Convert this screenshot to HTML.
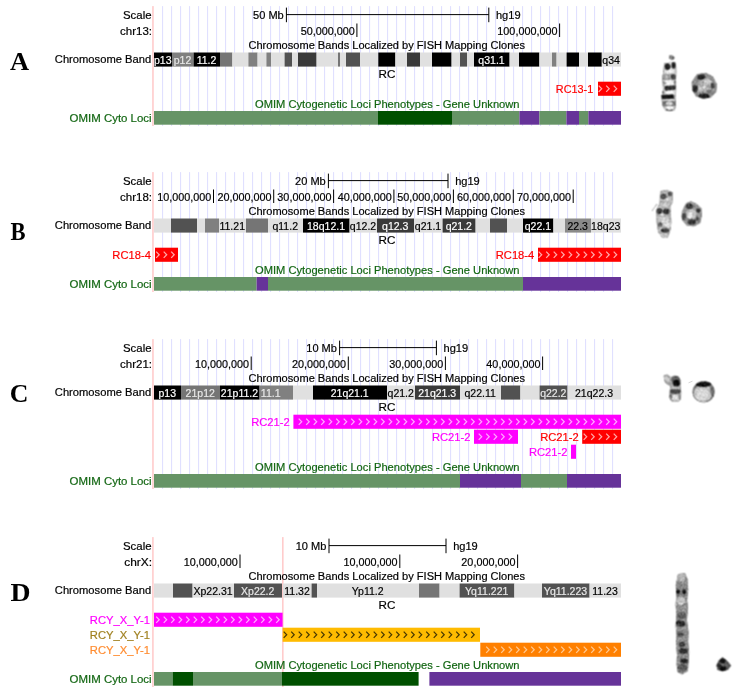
<!DOCTYPE html>
<html><head><meta charset="utf-8"><title>UCSC FISH clones</title>
<style>
html,body{margin:0;padding:0;background:#fff;}
body{width:745px;height:695px;overflow:hidden;position:relative;}
svg{position:absolute;left:0;top:0;font-family:'Liberation Sans', Arial, Helvetica, sans-serif;}
</style></head><body>
<svg width="745" height="695" viewBox="0 0 745 695">
<g>
<rect x="0" y="0" width="745" height="695" fill="#fff"/>
<rect x="162.00" y="6.10" width="1.10" height="119.90" fill="#e0e0ff"/>
<rect x="171.00" y="6.10" width="1.10" height="119.90" fill="#e0e0ff"/>
<rect x="180.00" y="6.10" width="1.10" height="119.90" fill="#e0e0ff"/>
<rect x="189.00" y="6.10" width="1.10" height="119.90" fill="#e0e0ff"/>
<rect x="198.00" y="6.10" width="1.10" height="119.90" fill="#e0e0ff"/>
<rect x="207.00" y="6.10" width="1.10" height="119.90" fill="#e0e0ff"/>
<rect x="216.00" y="6.10" width="1.10" height="119.90" fill="#e0e0ff"/>
<rect x="225.00" y="6.10" width="1.10" height="119.90" fill="#e0e0ff"/>
<rect x="234.00" y="6.10" width="1.10" height="119.90" fill="#e0e0ff"/>
<rect x="243.00" y="6.10" width="1.10" height="119.90" fill="#e0e0ff"/>
<rect x="252.00" y="6.10" width="1.10" height="119.90" fill="#e0e0ff"/>
<rect x="261.00" y="6.10" width="1.10" height="119.90" fill="#e0e0ff"/>
<rect x="270.00" y="6.10" width="1.10" height="119.90" fill="#e0e0ff"/>
<rect x="279.00" y="6.10" width="1.10" height="119.90" fill="#e0e0ff"/>
<rect x="288.00" y="6.10" width="1.10" height="119.90" fill="#e0e0ff"/>
<rect x="297.00" y="6.10" width="1.10" height="119.90" fill="#e0e0ff"/>
<rect x="306.00" y="6.10" width="1.10" height="119.90" fill="#e0e0ff"/>
<rect x="315.00" y="6.10" width="1.10" height="119.90" fill="#e0e0ff"/>
<rect x="324.00" y="6.10" width="1.10" height="119.90" fill="#e0e0ff"/>
<rect x="333.00" y="6.10" width="1.10" height="119.90" fill="#e0e0ff"/>
<rect x="342.00" y="6.10" width="1.10" height="119.90" fill="#e0e0ff"/>
<rect x="351.00" y="6.10" width="1.10" height="119.90" fill="#e0e0ff"/>
<rect x="360.00" y="6.10" width="1.10" height="119.90" fill="#e0e0ff"/>
<rect x="369.00" y="6.10" width="1.10" height="119.90" fill="#e0e0ff"/>
<rect x="378.00" y="6.10" width="1.10" height="119.90" fill="#e0e0ff"/>
<rect x="387.00" y="6.10" width="1.10" height="119.90" fill="#e0e0ff"/>
<rect x="396.00" y="6.10" width="1.10" height="119.90" fill="#e0e0ff"/>
<rect x="405.00" y="6.10" width="1.10" height="119.90" fill="#e0e0ff"/>
<rect x="414.00" y="6.10" width="1.10" height="119.90" fill="#e0e0ff"/>
<rect x="423.00" y="6.10" width="1.10" height="119.90" fill="#e0e0ff"/>
<rect x="432.00" y="6.10" width="1.10" height="119.90" fill="#e0e0ff"/>
<rect x="441.00" y="6.10" width="1.10" height="119.90" fill="#e0e0ff"/>
<rect x="450.00" y="6.10" width="1.10" height="119.90" fill="#e0e0ff"/>
<rect x="459.00" y="6.10" width="1.10" height="119.90" fill="#e0e0ff"/>
<rect x="468.00" y="6.10" width="1.10" height="119.90" fill="#e0e0ff"/>
<rect x="477.00" y="6.10" width="1.10" height="119.90" fill="#e0e0ff"/>
<rect x="486.00" y="6.10" width="1.10" height="119.90" fill="#e0e0ff"/>
<rect x="495.00" y="6.10" width="1.10" height="119.90" fill="#e0e0ff"/>
<rect x="504.00" y="6.10" width="1.10" height="119.90" fill="#e0e0ff"/>
<rect x="513.00" y="6.10" width="1.10" height="119.90" fill="#e0e0ff"/>
<rect x="522.00" y="6.10" width="1.10" height="119.90" fill="#e0e0ff"/>
<rect x="531.00" y="6.10" width="1.10" height="119.90" fill="#e0e0ff"/>
<rect x="540.00" y="6.10" width="1.10" height="119.90" fill="#e0e0ff"/>
<rect x="549.00" y="6.10" width="1.10" height="119.90" fill="#e0e0ff"/>
<rect x="558.00" y="6.10" width="1.10" height="119.90" fill="#e0e0ff"/>
<rect x="567.00" y="6.10" width="1.10" height="119.90" fill="#e0e0ff"/>
<rect x="576.00" y="6.10" width="1.10" height="119.90" fill="#e0e0ff"/>
<rect x="585.00" y="6.10" width="1.10" height="119.90" fill="#e0e0ff"/>
<rect x="594.00" y="6.10" width="1.10" height="119.90" fill="#e0e0ff"/>
<rect x="603.00" y="6.10" width="1.10" height="119.90" fill="#e0e0ff"/>
<rect x="612.00" y="6.10" width="1.10" height="119.90" fill="#e0e0ff"/>
<rect x="152.15" y="6.10" width="1.60" height="119.90" fill="#ffcccc"/>
<text transform="translate(9.99 70.10) scale(1.0565 1.0427)" font-size="25" font-family="Liberation Serif, serif" font-weight="bold" fill="#000">A</text>
<text transform="translate(123.01 19.00) scale(0.9751 1)" fill="#000" stroke="#000" stroke-width="0.2" font-size="11.7">Scale</text>
<text transform="translate(120.01 35.00) scale(0.9839 1)" fill="#000" stroke="#000" stroke-width="0.2" font-size="11.7">chr13:</text>
<text transform="translate(54.83 63.00) scale(0.9557 1)" fill="#000" stroke="#000" stroke-width="0.2" font-size="11.7">Chromosome Band</text>
<text transform="translate(69.61 122.00) scale(0.9782 1)" fill="#126612" stroke="#126612" stroke-width="0.2" font-size="11.7">OMIM Cyto Loci</text>
<rect x="286.40" y="14.10" width="202.40" height="1.00" fill="#000"/>
<rect x="285.90" y="7.60" width="1.00" height="14.60" fill="#000"/>
<rect x="488.30" y="7.60" width="1.00" height="14.60" fill="#000"/>
<text transform="translate(253.06 19.00) scale(0.9450 1)" fill="#000" stroke="#000" stroke-width="0.2" font-size="11.7">50 Mb</text>
<text transform="translate(495.94 19.00) scale(0.9474 1)" fill="#000" stroke="#000" stroke-width="0.2" font-size="11.7">hg19</text>
<rect x="356.40" y="23.50" width="1.00" height="13.50" fill="#000"/>
<text transform="translate(300.66 35.00) scale(0.9250 1)" fill="#000" stroke="#000" stroke-width="0.2" font-size="11.7">50,000,000</text>
<rect x="559.10" y="23.50" width="1.00" height="13.50" fill="#000"/>
<text transform="translate(497.35 35.00) scale(0.9250 1)" fill="#000" stroke="#000" stroke-width="0.2" font-size="11.7">100,000,000</text>
<text transform="translate(248.43 49.00) scale(0.9465 1)" fill="#000" stroke="#000" stroke-width="0.2" font-size="11.7">Chromosome Bands Localized by FISH Mapping Clones</text>
<text transform="translate(255.03 108.00) scale(0.9533 1)" fill="#126612" stroke="#126612" stroke-width="0.2" font-size="11.7">OMIM Cytogenetic Loci Phenotypes - Gene Unknown</text>
<rect x="154.00" y="52.50" width="18.00" height="14.10" fill="#000000"/>
<rect x="172.00" y="52.50" width="21.60" height="14.10" fill="#808080"/>
<rect x="193.60" y="52.50" width="26.40" height="14.10" fill="#000000"/>
<rect x="220.00" y="52.50" width="12.40" height="14.10" fill="#757575"/>
<rect x="232.40" y="52.50" width="16.00" height="14.10" fill="#e0e0e0"/>
<rect x="248.40" y="52.50" width="9.20" height="14.10" fill="#808080"/>
<rect x="257.60" y="52.50" width="8.80" height="14.10" fill="#e0e0e0"/>
<rect x="266.40" y="52.50" width="4.80" height="14.10" fill="#808080"/>
<rect x="271.20" y="52.50" width="13.40" height="14.10" fill="#e0e0e0"/>
<rect x="284.60" y="52.50" width="7.40" height="14.10" fill="#525252"/>
<rect x="292.00" y="52.50" width="6.00" height="14.10" fill="#e0e0e0"/>
<rect x="298.00" y="52.50" width="18.60" height="14.10" fill="#3a3a3a"/>
<rect x="316.60" y="52.50" width="21.40" height="14.10" fill="#e0e0e0"/>
<rect x="338.00" y="52.50" width="2.00" height="14.10" fill="#757575"/>
<rect x="340.00" y="52.50" width="6.00" height="14.10" fill="#e0e0e0"/>
<rect x="346.00" y="52.50" width="14.00" height="14.10" fill="#525252"/>
<rect x="360.00" y="52.50" width="18.30" height="14.10" fill="#e0e0e0"/>
<rect x="378.30" y="52.50" width="17.10" height="14.10" fill="#000000"/>
<rect x="395.40" y="52.50" width="11.60" height="14.10" fill="#e0e0e0"/>
<rect x="407.00" y="52.50" width="13.00" height="14.10" fill="#3a3a3a"/>
<rect x="420.00" y="52.50" width="12.00" height="14.10" fill="#e0e0e0"/>
<rect x="432.00" y="52.50" width="19.60" height="14.10" fill="#000000"/>
<rect x="451.60" y="52.50" width="8.40" height="14.10" fill="#e0e0e0"/>
<rect x="460.00" y="52.50" width="7.00" height="14.10" fill="#525252"/>
<rect x="467.00" y="52.50" width="7.00" height="14.10" fill="#e0e0e0"/>
<rect x="474.00" y="52.50" width="35.60" height="14.10" fill="#000000"/>
<rect x="509.60" y="52.50" width="9.40" height="14.10" fill="#e0e0e0"/>
<rect x="519.00" y="52.50" width="20.40" height="14.10" fill="#000000"/>
<rect x="539.40" y="52.50" width="12.60" height="14.10" fill="#e0e0e0"/>
<rect x="552.00" y="52.50" width="4.60" height="14.10" fill="#808080"/>
<rect x="556.60" y="52.50" width="10.00" height="14.10" fill="#e0e0e0"/>
<rect x="566.60" y="52.50" width="12.40" height="14.10" fill="#000000"/>
<rect x="579.00" y="52.50" width="9.00" height="14.10" fill="#e0e0e0"/>
<rect x="588.00" y="52.50" width="13.80" height="14.10" fill="#000000"/>
<rect x="601.80" y="52.50" width="19.20" height="14.10" fill="#e0e0e0"/>
<text transform="translate(162.70 64.00) scale(0.9000 1)" fill="#ffffff" stroke="#ffffff" stroke-width="0.2" font-size="11.7" text-anchor="middle">p13</text>
<text transform="translate(182.50 64.00) scale(0.9000 1)" fill="#e8e8e8" stroke="#e8e8e8" stroke-width="0.2" font-size="11.7" text-anchor="middle">p12</text>
<text transform="translate(206.50 64.00) scale(0.9000 1)" fill="#ffffff" stroke="#ffffff" stroke-width="0.2" font-size="11.7" text-anchor="middle">11.2</text>
<text transform="translate(491.50 64.00) scale(0.9000 1)" fill="#ffffff" stroke="#ffffff" stroke-width="0.2" font-size="11.7" text-anchor="middle">q31.1</text>
<text transform="translate(611.10 64.00) scale(0.9000 1)" fill="#000000" stroke="#000000" stroke-width="0.2" font-size="11.7" text-anchor="middle">q34</text>
<text transform="translate(378.60 78.00) scale(1.0000 1)" fill="#000" stroke="#000" stroke-width="0.2" font-size="11.7">RC</text>
<rect x="598.00" y="81.70" width="23.00" height="14.10" fill="#ff0000"/>
<path d="M598.70 85.65L601.70 88.75L598.70 91.85M606.20 85.65L609.20 88.75L606.20 91.85M613.70 85.65L616.70 88.75L613.70 91.85" fill="none" stroke="#ffa8a8" stroke-width="1.25"/>
<text transform="translate(555.86 93.00) scale(0.9280 1)" fill="#ff0000" stroke="#ff0000" stroke-width="0.2" font-size="11.7">RC13-1</text>
<rect x="154.00" y="111.00" width="224.00" height="13.70" fill="#669466"/>
<rect x="378.00" y="111.00" width="74.00" height="13.70" fill="#005000"/>
<rect x="452.00" y="111.00" width="67.40" height="13.70" fill="#669466"/>
<rect x="519.40" y="111.00" width="20.00" height="13.70" fill="#663399"/>
<rect x="539.40" y="111.00" width="27.00" height="13.70" fill="#669466"/>
<rect x="566.40" y="111.00" width="12.60" height="13.70" fill="#663399"/>
<rect x="579.00" y="111.00" width="9.40" height="13.70" fill="#669466"/>
<rect x="588.40" y="111.00" width="32.60" height="13.70" fill="#663399"/>
<rect x="162.00" y="172.10" width="1.10" height="119.90" fill="#e0e0ff"/>
<rect x="171.00" y="172.10" width="1.10" height="119.90" fill="#e0e0ff"/>
<rect x="180.00" y="172.10" width="1.10" height="119.90" fill="#e0e0ff"/>
<rect x="189.00" y="172.10" width="1.10" height="119.90" fill="#e0e0ff"/>
<rect x="198.00" y="172.10" width="1.10" height="119.90" fill="#e0e0ff"/>
<rect x="207.00" y="172.10" width="1.10" height="119.90" fill="#e0e0ff"/>
<rect x="216.00" y="172.10" width="1.10" height="119.90" fill="#e0e0ff"/>
<rect x="225.00" y="172.10" width="1.10" height="119.90" fill="#e0e0ff"/>
<rect x="234.00" y="172.10" width="1.10" height="119.90" fill="#e0e0ff"/>
<rect x="243.00" y="172.10" width="1.10" height="119.90" fill="#e0e0ff"/>
<rect x="252.00" y="172.10" width="1.10" height="119.90" fill="#e0e0ff"/>
<rect x="261.00" y="172.10" width="1.10" height="119.90" fill="#e0e0ff"/>
<rect x="270.00" y="172.10" width="1.10" height="119.90" fill="#e0e0ff"/>
<rect x="279.00" y="172.10" width="1.10" height="119.90" fill="#e0e0ff"/>
<rect x="288.00" y="172.10" width="1.10" height="119.90" fill="#e0e0ff"/>
<rect x="297.00" y="172.10" width="1.10" height="119.90" fill="#e0e0ff"/>
<rect x="306.00" y="172.10" width="1.10" height="119.90" fill="#e0e0ff"/>
<rect x="315.00" y="172.10" width="1.10" height="119.90" fill="#e0e0ff"/>
<rect x="324.00" y="172.10" width="1.10" height="119.90" fill="#e0e0ff"/>
<rect x="333.00" y="172.10" width="1.10" height="119.90" fill="#e0e0ff"/>
<rect x="342.00" y="172.10" width="1.10" height="119.90" fill="#e0e0ff"/>
<rect x="351.00" y="172.10" width="1.10" height="119.90" fill="#e0e0ff"/>
<rect x="360.00" y="172.10" width="1.10" height="119.90" fill="#e0e0ff"/>
<rect x="369.00" y="172.10" width="1.10" height="119.90" fill="#e0e0ff"/>
<rect x="378.00" y="172.10" width="1.10" height="119.90" fill="#e0e0ff"/>
<rect x="387.00" y="172.10" width="1.10" height="119.90" fill="#e0e0ff"/>
<rect x="396.00" y="172.10" width="1.10" height="119.90" fill="#e0e0ff"/>
<rect x="405.00" y="172.10" width="1.10" height="119.90" fill="#e0e0ff"/>
<rect x="414.00" y="172.10" width="1.10" height="119.90" fill="#e0e0ff"/>
<rect x="423.00" y="172.10" width="1.10" height="119.90" fill="#e0e0ff"/>
<rect x="432.00" y="172.10" width="1.10" height="119.90" fill="#e0e0ff"/>
<rect x="441.00" y="172.10" width="1.10" height="119.90" fill="#e0e0ff"/>
<rect x="450.00" y="172.10" width="1.10" height="119.90" fill="#e0e0ff"/>
<rect x="459.00" y="172.10" width="1.10" height="119.90" fill="#e0e0ff"/>
<rect x="468.00" y="172.10" width="1.10" height="119.90" fill="#e0e0ff"/>
<rect x="477.00" y="172.10" width="1.10" height="119.90" fill="#e0e0ff"/>
<rect x="486.00" y="172.10" width="1.10" height="119.90" fill="#e0e0ff"/>
<rect x="495.00" y="172.10" width="1.10" height="119.90" fill="#e0e0ff"/>
<rect x="504.00" y="172.10" width="1.10" height="119.90" fill="#e0e0ff"/>
<rect x="513.00" y="172.10" width="1.10" height="119.90" fill="#e0e0ff"/>
<rect x="522.00" y="172.10" width="1.10" height="119.90" fill="#e0e0ff"/>
<rect x="531.00" y="172.10" width="1.10" height="119.90" fill="#e0e0ff"/>
<rect x="540.00" y="172.10" width="1.10" height="119.90" fill="#e0e0ff"/>
<rect x="549.00" y="172.10" width="1.10" height="119.90" fill="#e0e0ff"/>
<rect x="558.00" y="172.10" width="1.10" height="119.90" fill="#e0e0ff"/>
<rect x="567.00" y="172.10" width="1.10" height="119.90" fill="#e0e0ff"/>
<rect x="576.00" y="172.10" width="1.10" height="119.90" fill="#e0e0ff"/>
<rect x="585.00" y="172.10" width="1.10" height="119.90" fill="#e0e0ff"/>
<rect x="594.00" y="172.10" width="1.10" height="119.90" fill="#e0e0ff"/>
<rect x="603.00" y="172.10" width="1.10" height="119.90" fill="#e0e0ff"/>
<rect x="612.00" y="172.10" width="1.10" height="119.90" fill="#e0e0ff"/>
<rect x="152.15" y="172.10" width="1.60" height="119.90" fill="#ffcccc"/>
<text transform="translate(10.54 240.00) scale(0.9038 1.0427)" font-size="25" font-family="Liberation Serif, serif" font-weight="bold" fill="#000">B</text>
<text transform="translate(123.01 185.00) scale(0.9751 1)" fill="#000" stroke="#000" stroke-width="0.2" font-size="11.7">Scale</text>
<text transform="translate(120.01 201.00) scale(0.9839 1)" fill="#000" stroke="#000" stroke-width="0.2" font-size="11.7">chr18:</text>
<text transform="translate(54.83 229.00) scale(0.9557 1)" fill="#000" stroke="#000" stroke-width="0.2" font-size="11.7">Chromosome Band</text>
<text transform="translate(69.61 288.00) scale(0.9782 1)" fill="#126612" stroke="#126612" stroke-width="0.2" font-size="11.7">OMIM Cyto Loci</text>
<rect x="328.40" y="180.10" width="119.60" height="1.00" fill="#000"/>
<rect x="327.90" y="173.60" width="1.00" height="14.60" fill="#000"/>
<rect x="447.50" y="173.60" width="1.00" height="14.60" fill="#000"/>
<text transform="translate(295.06 185.00) scale(0.9450 1)" fill="#000" stroke="#000" stroke-width="0.2" font-size="11.7">20 Mb</text>
<text transform="translate(455.14 185.00) scale(0.9474 1)" fill="#000" stroke="#000" stroke-width="0.2" font-size="11.7">hg19</text>
<rect x="213.00" y="189.50" width="1.00" height="13.50" fill="#000"/>
<text transform="translate(157.26 201.00) scale(0.9250 1)" fill="#000" stroke="#000" stroke-width="0.2" font-size="11.7">10,000,000</text>
<rect x="273.20" y="189.50" width="1.00" height="13.50" fill="#000"/>
<text transform="translate(217.46 201.00) scale(0.9250 1)" fill="#000" stroke="#000" stroke-width="0.2" font-size="11.7">20,000,000</text>
<rect x="333.10" y="189.50" width="1.00" height="13.50" fill="#000"/>
<text transform="translate(277.36 201.00) scale(0.9250 1)" fill="#000" stroke="#000" stroke-width="0.2" font-size="11.7">30,000,000</text>
<rect x="393.40" y="189.50" width="1.00" height="13.50" fill="#000"/>
<text transform="translate(337.66 201.00) scale(0.9250 1)" fill="#000" stroke="#000" stroke-width="0.2" font-size="11.7">40,000,000</text>
<rect x="452.90" y="189.50" width="1.00" height="13.50" fill="#000"/>
<text transform="translate(397.16 201.00) scale(0.9250 1)" fill="#000" stroke="#000" stroke-width="0.2" font-size="11.7">50,000,000</text>
<rect x="512.80" y="189.50" width="1.00" height="13.50" fill="#000"/>
<text transform="translate(457.06 201.00) scale(0.9250 1)" fill="#000" stroke="#000" stroke-width="0.2" font-size="11.7">60,000,000</text>
<rect x="572.70" y="189.50" width="1.00" height="13.50" fill="#000"/>
<text transform="translate(516.96 201.00) scale(0.9250 1)" fill="#000" stroke="#000" stroke-width="0.2" font-size="11.7">70,000,000</text>
<text transform="translate(248.43 215.00) scale(0.9465 1)" fill="#000" stroke="#000" stroke-width="0.2" font-size="11.7">Chromosome Bands Localized by FISH Mapping Clones</text>
<text transform="translate(255.03 274.00) scale(0.9533 1)" fill="#126612" stroke="#126612" stroke-width="0.2" font-size="11.7">OMIM Cytogenetic Loci Phenotypes - Gene Unknown</text>
<rect x="154.00" y="218.50" width="17.00" height="14.10" fill="#e0e0e0"/>
<rect x="171.00" y="218.50" width="26.00" height="14.10" fill="#525252"/>
<rect x="197.00" y="218.50" width="8.00" height="14.10" fill="#e0e0e0"/>
<rect x="205.00" y="218.50" width="14.00" height="14.10" fill="#808080"/>
<rect x="219.00" y="218.50" width="27.00" height="14.10" fill="#e0e0e0"/>
<rect x="246.00" y="218.50" width="22.00" height="14.10" fill="#757575"/>
<rect x="268.00" y="218.50" width="35.00" height="14.10" fill="#e0e0e0"/>
<rect x="303.00" y="218.50" width="46.60" height="14.10" fill="#000000"/>
<rect x="349.60" y="218.50" width="27.40" height="14.10" fill="#e0e0e0"/>
<rect x="377.00" y="218.50" width="37.00" height="14.10" fill="#3a3a3a"/>
<rect x="414.00" y="218.50" width="28.60" height="14.10" fill="#e0e0e0"/>
<rect x="442.60" y="218.50" width="33.00" height="14.10" fill="#3a3a3a"/>
<rect x="475.60" y="218.50" width="14.40" height="14.10" fill="#e0e0e0"/>
<rect x="490.00" y="218.50" width="17.00" height="14.10" fill="#525252"/>
<rect x="507.00" y="218.50" width="16.00" height="14.10" fill="#e0e0e0"/>
<rect x="523.00" y="218.50" width="30.40" height="14.10" fill="#000000"/>
<rect x="553.40" y="218.50" width="11.60" height="14.10" fill="#e0e0e0"/>
<rect x="565.00" y="218.50" width="26.00" height="14.10" fill="#8a8a8a"/>
<rect x="591.00" y="218.50" width="30.00" height="14.10" fill="#e0e0e0"/>
<text transform="translate(232.20 230.00) scale(0.9000 1)" fill="#000000" stroke="#000000" stroke-width="0.2" font-size="11.7" text-anchor="middle">11.21</text>
<text transform="translate(285.20 230.00) scale(0.9000 1)" fill="#000000" stroke="#000000" stroke-width="0.2" font-size="11.7" text-anchor="middle">q11.2</text>
<text transform="translate(326.00 230.00) scale(0.9000 1)" fill="#ffffff" stroke="#ffffff" stroke-width="0.2" font-size="11.7" text-anchor="middle">18q12.1</text>
<text transform="translate(363.00 230.00) scale(0.9000 1)" fill="#000000" stroke="#000000" stroke-width="0.2" font-size="11.7" text-anchor="middle">q12.2</text>
<text transform="translate(395.20 230.00) scale(0.9000 1)" fill="#ffffff" stroke="#ffffff" stroke-width="0.2" font-size="11.7" text-anchor="middle">q12.3</text>
<text transform="translate(428.00 230.00) scale(0.9000 1)" fill="#000000" stroke="#000000" stroke-width="0.2" font-size="11.7" text-anchor="middle">q21.1</text>
<text transform="translate(458.80 230.00) scale(0.9000 1)" fill="#ffffff" stroke="#ffffff" stroke-width="0.2" font-size="11.7" text-anchor="middle">q21.2</text>
<text transform="translate(537.90 230.00) scale(0.9000 1)" fill="#ffffff" stroke="#ffffff" stroke-width="0.2" font-size="11.7" text-anchor="middle">q22.1</text>
<text transform="translate(577.70 230.00) scale(0.9000 1)" fill="#000000" stroke="#000000" stroke-width="0.2" font-size="11.7" text-anchor="middle">22.3</text>
<text transform="translate(605.70 230.00) scale(0.9000 1)" fill="#000000" stroke="#000000" stroke-width="0.2" font-size="11.7" text-anchor="middle">18q23</text>
<text transform="translate(378.60 244.00) scale(1.0000 1)" fill="#000" stroke="#000" stroke-width="0.2" font-size="11.7">RC</text>
<rect x="155.00" y="247.70" width="23.00" height="14.10" fill="#ff0000"/>
<path d="M156.20 251.65L159.20 254.75L156.20 257.85M163.70 251.65L166.70 254.75L163.70 257.85M171.20 251.65L174.20 254.75L171.20 257.85" fill="none" stroke="#ffa8a8" stroke-width="1.25"/>
<text transform="translate(112.36 259.00) scale(0.9560 1)" fill="#ff0000" stroke="#ff0000" stroke-width="0.2" font-size="11.7">RC18-4</text>
<rect x="538.00" y="247.70" width="83.00" height="14.10" fill="#ff0000"/>
<path d="M538.70 251.65L541.70 254.75L538.70 257.85M546.20 251.65L549.20 254.75L546.20 257.85M553.70 251.65L556.70 254.75L553.70 257.85M561.20 251.65L564.20 254.75L561.20 257.85M568.70 251.65L571.70 254.75L568.70 257.85M576.20 251.65L579.20 254.75L576.20 257.85M583.70 251.65L586.70 254.75L583.70 257.85M591.20 251.65L594.20 254.75L591.20 257.85M598.70 251.65L601.70 254.75L598.70 257.85M606.20 251.65L609.20 254.75L606.20 257.85M613.70 251.65L616.70 254.75L613.70 257.85" fill="none" stroke="#ffa8a8" stroke-width="1.25"/>
<text transform="translate(495.76 259.00) scale(0.9560 1)" fill="#ff0000" stroke="#ff0000" stroke-width="0.2" font-size="11.7">RC18-4</text>
<rect x="154.00" y="277.00" width="102.60" height="13.70" fill="#669466"/>
<rect x="256.60" y="277.00" width="11.40" height="13.70" fill="#663399"/>
<rect x="268.00" y="277.00" width="255.00" height="13.70" fill="#669466"/>
<rect x="523.00" y="277.00" width="98.00" height="13.70" fill="#663399"/>
<rect x="162.00" y="339.10" width="1.10" height="149.90" fill="#e0e0ff"/>
<rect x="171.00" y="339.10" width="1.10" height="149.90" fill="#e0e0ff"/>
<rect x="180.00" y="339.10" width="1.10" height="149.90" fill="#e0e0ff"/>
<rect x="189.00" y="339.10" width="1.10" height="149.90" fill="#e0e0ff"/>
<rect x="198.00" y="339.10" width="1.10" height="149.90" fill="#e0e0ff"/>
<rect x="207.00" y="339.10" width="1.10" height="149.90" fill="#e0e0ff"/>
<rect x="216.00" y="339.10" width="1.10" height="149.90" fill="#e0e0ff"/>
<rect x="225.00" y="339.10" width="1.10" height="149.90" fill="#e0e0ff"/>
<rect x="234.00" y="339.10" width="1.10" height="149.90" fill="#e0e0ff"/>
<rect x="243.00" y="339.10" width="1.10" height="149.90" fill="#e0e0ff"/>
<rect x="252.00" y="339.10" width="1.10" height="149.90" fill="#e0e0ff"/>
<rect x="261.00" y="339.10" width="1.10" height="149.90" fill="#e0e0ff"/>
<rect x="270.00" y="339.10" width="1.10" height="149.90" fill="#e0e0ff"/>
<rect x="279.00" y="339.10" width="1.10" height="149.90" fill="#e0e0ff"/>
<rect x="288.00" y="339.10" width="1.10" height="149.90" fill="#e0e0ff"/>
<rect x="297.00" y="339.10" width="1.10" height="149.90" fill="#e0e0ff"/>
<rect x="306.00" y="339.10" width="1.10" height="149.90" fill="#e0e0ff"/>
<rect x="315.00" y="339.10" width="1.10" height="149.90" fill="#e0e0ff"/>
<rect x="324.00" y="339.10" width="1.10" height="149.90" fill="#e0e0ff"/>
<rect x="333.00" y="339.10" width="1.10" height="149.90" fill="#e0e0ff"/>
<rect x="342.00" y="339.10" width="1.10" height="149.90" fill="#e0e0ff"/>
<rect x="351.00" y="339.10" width="1.10" height="149.90" fill="#e0e0ff"/>
<rect x="360.00" y="339.10" width="1.10" height="149.90" fill="#e0e0ff"/>
<rect x="369.00" y="339.10" width="1.10" height="149.90" fill="#e0e0ff"/>
<rect x="378.00" y="339.10" width="1.10" height="149.90" fill="#e0e0ff"/>
<rect x="387.00" y="339.10" width="1.10" height="149.90" fill="#e0e0ff"/>
<rect x="396.00" y="339.10" width="1.10" height="149.90" fill="#e0e0ff"/>
<rect x="405.00" y="339.10" width="1.10" height="149.90" fill="#e0e0ff"/>
<rect x="414.00" y="339.10" width="1.10" height="149.90" fill="#e0e0ff"/>
<rect x="423.00" y="339.10" width="1.10" height="149.90" fill="#e0e0ff"/>
<rect x="432.00" y="339.10" width="1.10" height="149.90" fill="#e0e0ff"/>
<rect x="441.00" y="339.10" width="1.10" height="149.90" fill="#e0e0ff"/>
<rect x="450.00" y="339.10" width="1.10" height="149.90" fill="#e0e0ff"/>
<rect x="459.00" y="339.10" width="1.10" height="149.90" fill="#e0e0ff"/>
<rect x="468.00" y="339.10" width="1.10" height="149.90" fill="#e0e0ff"/>
<rect x="477.00" y="339.10" width="1.10" height="149.90" fill="#e0e0ff"/>
<rect x="486.00" y="339.10" width="1.10" height="149.90" fill="#e0e0ff"/>
<rect x="495.00" y="339.10" width="1.10" height="149.90" fill="#e0e0ff"/>
<rect x="504.00" y="339.10" width="1.10" height="149.90" fill="#e0e0ff"/>
<rect x="513.00" y="339.10" width="1.10" height="149.90" fill="#e0e0ff"/>
<rect x="522.00" y="339.10" width="1.10" height="149.90" fill="#e0e0ff"/>
<rect x="531.00" y="339.10" width="1.10" height="149.90" fill="#e0e0ff"/>
<rect x="540.00" y="339.10" width="1.10" height="149.90" fill="#e0e0ff"/>
<rect x="549.00" y="339.10" width="1.10" height="149.90" fill="#e0e0ff"/>
<rect x="558.00" y="339.10" width="1.10" height="149.90" fill="#e0e0ff"/>
<rect x="567.00" y="339.10" width="1.10" height="149.90" fill="#e0e0ff"/>
<rect x="576.00" y="339.10" width="1.10" height="149.90" fill="#e0e0ff"/>
<rect x="585.00" y="339.10" width="1.10" height="149.90" fill="#e0e0ff"/>
<rect x="594.00" y="339.10" width="1.10" height="149.90" fill="#e0e0ff"/>
<rect x="603.00" y="339.10" width="1.10" height="149.90" fill="#e0e0ff"/>
<rect x="612.00" y="339.10" width="1.10" height="149.90" fill="#e0e0ff"/>
<rect x="152.15" y="339.10" width="1.60" height="149.90" fill="#ffcccc"/>
<text transform="translate(9.66 401.80) scale(1.0336 1.0179)" font-size="25" font-family="Liberation Serif, serif" font-weight="bold" fill="#000">C</text>
<text transform="translate(123.01 352.00) scale(0.9751 1)" fill="#000" stroke="#000" stroke-width="0.2" font-size="11.7">Scale</text>
<text transform="translate(120.01 368.00) scale(0.9839 1)" fill="#000" stroke="#000" stroke-width="0.2" font-size="11.7">chr21:</text>
<text transform="translate(54.83 396.00) scale(0.9557 1)" fill="#000" stroke="#000" stroke-width="0.2" font-size="11.7">Chromosome Band</text>
<text transform="translate(69.61 485.00) scale(0.9782 1)" fill="#126612" stroke="#126612" stroke-width="0.2" font-size="11.7">OMIM Cyto Loci</text>
<rect x="339.60" y="347.10" width="96.80" height="1.00" fill="#000"/>
<rect x="339.10" y="340.60" width="1.00" height="14.60" fill="#000"/>
<rect x="435.90" y="340.60" width="1.00" height="14.60" fill="#000"/>
<text transform="translate(306.26 352.00) scale(0.9450 1)" fill="#000" stroke="#000" stroke-width="0.2" font-size="11.7">10 Mb</text>
<text transform="translate(443.54 352.00) scale(0.9474 1)" fill="#000" stroke="#000" stroke-width="0.2" font-size="11.7">hg19</text>
<rect x="250.70" y="356.50" width="1.00" height="13.50" fill="#000"/>
<text transform="translate(194.96 368.00) scale(0.9250 1)" fill="#000" stroke="#000" stroke-width="0.2" font-size="11.7">10,000,000</text>
<rect x="347.80" y="356.50" width="1.00" height="13.50" fill="#000"/>
<text transform="translate(292.06 368.00) scale(0.9250 1)" fill="#000" stroke="#000" stroke-width="0.2" font-size="11.7">20,000,000</text>
<rect x="444.90" y="356.50" width="1.00" height="13.50" fill="#000"/>
<text transform="translate(389.16 368.00) scale(0.9250 1)" fill="#000" stroke="#000" stroke-width="0.2" font-size="11.7">30,000,000</text>
<rect x="542.10" y="356.50" width="1.00" height="13.50" fill="#000"/>
<text transform="translate(486.36 368.00) scale(0.9250 1)" fill="#000" stroke="#000" stroke-width="0.2" font-size="11.7">40,000,000</text>
<text transform="translate(248.43 382.00) scale(0.9465 1)" fill="#000" stroke="#000" stroke-width="0.2" font-size="11.7">Chromosome Bands Localized by FISH Mapping Clones</text>
<text transform="translate(255.03 471.00) scale(0.9533 1)" fill="#126612" stroke="#126612" stroke-width="0.2" font-size="11.7">OMIM Cytogenetic Loci Phenotypes - Gene Unknown</text>
<rect x="154.00" y="385.50" width="27.00" height="14.10" fill="#000000"/>
<rect x="181.00" y="385.50" width="39.00" height="14.10" fill="#757575"/>
<rect x="220.00" y="385.50" width="39.60" height="14.10" fill="#000000"/>
<rect x="259.60" y="385.50" width="33.40" height="14.10" fill="#808080"/>
<rect x="293.00" y="385.50" width="20.00" height="14.10" fill="#e0e0e0"/>
<rect x="313.00" y="385.50" width="74.00" height="14.10" fill="#000000"/>
<rect x="387.00" y="385.50" width="28.00" height="14.10" fill="#e0e0e0"/>
<rect x="415.00" y="385.50" width="45.00" height="14.10" fill="#3a3a3a"/>
<rect x="460.00" y="385.50" width="41.00" height="14.10" fill="#e0e0e0"/>
<rect x="501.00" y="385.50" width="19.40" height="14.10" fill="#525252"/>
<rect x="520.40" y="385.50" width="19.20" height="14.10" fill="#e0e0e0"/>
<rect x="539.60" y="385.50" width="28.00" height="14.10" fill="#525252"/>
<rect x="567.60" y="385.50" width="53.40" height="14.10" fill="#e0e0e0"/>
<text transform="translate(167.20 397.00) scale(0.9000 1)" fill="#ffffff" stroke="#ffffff" stroke-width="0.2" font-size="11.7" text-anchor="middle">p13</text>
<text transform="translate(200.20 397.00) scale(0.9000 1)" fill="#e8e8e8" stroke="#e8e8e8" stroke-width="0.2" font-size="11.7" text-anchor="middle">21p12</text>
<text transform="translate(239.50 397.00) scale(0.9000 1)" fill="#ffffff" stroke="#ffffff" stroke-width="0.2" font-size="11.7" text-anchor="middle">21p11.2</text>
<text transform="translate(260.78 397.00) scale(0.9069 1)" fill="#e8e8e8" stroke="#e8e8e8" stroke-width="0.2" font-size="11.7">11.1</text>
<text transform="translate(349.70 397.00) scale(0.9000 1)" fill="#ffffff" stroke="#ffffff" stroke-width="0.2" font-size="11.7" text-anchor="middle">21q21.1</text>
<text transform="translate(400.70 397.00) scale(0.9000 1)" fill="#000000" stroke="#000000" stroke-width="0.2" font-size="11.7" text-anchor="middle">q21.2</text>
<text transform="translate(437.20 397.00) scale(0.9000 1)" fill="#ffffff" stroke="#ffffff" stroke-width="0.2" font-size="11.7" text-anchor="middle">21q21.3</text>
<text transform="translate(480.20 397.00) scale(0.9000 1)" fill="#000000" stroke="#000000" stroke-width="0.2" font-size="11.7" text-anchor="middle">q22.11</text>
<text transform="translate(553.30 397.00) scale(0.9000 1)" fill="#e8e8e8" stroke="#e8e8e8" stroke-width="0.2" font-size="11.7" text-anchor="middle">q22.2</text>
<text transform="translate(594.00 397.00) scale(0.9000 1)" fill="#000000" stroke="#000000" stroke-width="0.2" font-size="11.7" text-anchor="middle">21q22.3</text>
<text transform="translate(378.60 411.00) scale(1.0000 1)" fill="#000" stroke="#000" stroke-width="0.2" font-size="11.7">RC</text>
<rect x="293.40" y="414.70" width="327.60" height="14.10" fill="#ff00ff"/>
<path d="M298.70 418.65L301.70 421.75L298.70 424.85M306.20 418.65L309.20 421.75L306.20 424.85M313.70 418.65L316.70 421.75L313.70 424.85M321.20 418.65L324.20 421.75L321.20 424.85M328.70 418.65L331.70 421.75L328.70 424.85M336.20 418.65L339.20 421.75L336.20 424.85M343.70 418.65L346.70 421.75L343.70 424.85M351.20 418.65L354.20 421.75L351.20 424.85M358.70 418.65L361.70 421.75L358.70 424.85M366.20 418.65L369.20 421.75L366.20 424.85M373.70 418.65L376.70 421.75L373.70 424.85M381.20 418.65L384.20 421.75L381.20 424.85M388.70 418.65L391.70 421.75L388.70 424.85M396.20 418.65L399.20 421.75L396.20 424.85M403.70 418.65L406.70 421.75L403.70 424.85M411.20 418.65L414.20 421.75L411.20 424.85M418.70 418.65L421.70 421.75L418.70 424.85M426.20 418.65L429.20 421.75L426.20 424.85M433.70 418.65L436.70 421.75L433.70 424.85M441.20 418.65L444.20 421.75L441.20 424.85M448.70 418.65L451.70 421.75L448.70 424.85M456.20 418.65L459.20 421.75L456.20 424.85M463.70 418.65L466.70 421.75L463.70 424.85M471.20 418.65L474.20 421.75L471.20 424.85M478.70 418.65L481.70 421.75L478.70 424.85M486.20 418.65L489.20 421.75L486.20 424.85M493.70 418.65L496.70 421.75L493.70 424.85M501.20 418.65L504.20 421.75L501.20 424.85M508.70 418.65L511.70 421.75L508.70 424.85M516.20 418.65L519.20 421.75L516.20 424.85M523.70 418.65L526.70 421.75L523.70 424.85M531.20 418.65L534.20 421.75L531.20 424.85M538.70 418.65L541.70 421.75L538.70 424.85M546.20 418.65L549.20 421.75L546.20 424.85M553.70 418.65L556.70 421.75L553.70 424.85M561.20 418.65L564.20 421.75L561.20 424.85M568.70 418.65L571.70 421.75L568.70 424.85M576.20 418.65L579.20 421.75L576.20 424.85M583.70 418.65L586.70 421.75L583.70 424.85M591.20 418.65L594.20 421.75L591.20 424.85M598.70 418.65L601.70 421.75L598.70 424.85M606.20 418.65L609.20 421.75L606.20 424.85M613.70 418.65L616.70 421.75L613.70 424.85" fill="none" stroke="#ffa8ff" stroke-width="1.25"/>
<text transform="translate(251.13 426.00) scale(0.9590 1)" fill="#ff00ff" stroke="#ff00ff" stroke-width="0.2" font-size="11.7">RC21-2</text>
<rect x="474.00" y="429.70" width="44.00" height="14.10" fill="#ff00ff"/>
<path d="M478.70 433.65L481.70 436.75L478.70 439.85M486.20 433.65L489.20 436.75L486.20 439.85M493.70 433.65L496.70 436.75L493.70 439.85M501.20 433.65L504.20 436.75L501.20 439.85M508.70 433.65L511.70 436.75L508.70 439.85" fill="none" stroke="#ffa8ff" stroke-width="1.25"/>
<text transform="translate(431.93 441.00) scale(0.9590 1)" fill="#ff00ff" stroke="#ff00ff" stroke-width="0.2" font-size="11.7">RC21-2</text>
<rect x="582.20" y="429.70" width="38.80" height="14.10" fill="#ff0000"/>
<path d="M583.70 433.65L586.70 436.75L583.70 439.85M591.20 433.65L594.20 436.75L591.20 439.85M598.70 433.65L601.70 436.75L598.70 439.85M606.20 433.65L609.20 436.75L606.20 439.85M613.70 433.65L616.70 436.75L613.70 439.85" fill="none" stroke="#ffa8a8" stroke-width="1.25"/>
<text transform="translate(540.13 441.00) scale(0.9590 1)" fill="#ff0000" stroke="#ff0000" stroke-width="0.2" font-size="11.7">RC21-2</text>
<rect x="571.00" y="444.70" width="5.00" height="14.10" fill="#ff00ff"/>
<text transform="translate(528.93 456.00) scale(0.9590 1)" fill="#ff00ff" stroke="#ff00ff" stroke-width="0.2" font-size="11.7">RC21-2</text>
<rect x="154.00" y="474.00" width="306.00" height="13.70" fill="#669466"/>
<rect x="460.00" y="474.00" width="61.00" height="13.70" fill="#663399"/>
<rect x="521.00" y="474.00" width="46.00" height="13.70" fill="#669466"/>
<rect x="567.00" y="474.00" width="54.00" height="13.70" fill="#663399"/>
<rect x="152.10" y="537.10" width="1.60" height="149.90" fill="#ffcccc"/>
<rect x="282.00" y="537.10" width="1.60" height="149.90" fill="#ffcccc"/>
<text transform="translate(10.46 600.90) scale(1.1098 1.0244)" font-size="25" font-family="Liberation Serif, serif" font-weight="bold" fill="#000">D</text>
<text transform="translate(123.01 550.00) scale(0.9751 1)" fill="#000" stroke="#000" stroke-width="0.2" font-size="11.7">Scale</text>
<text transform="translate(124.29 566.00) scale(1.0195 1)" fill="#000" stroke="#000" stroke-width="0.2" font-size="11.7">chrX:</text>
<text transform="translate(54.83 594.00) scale(0.9557 1)" fill="#000" stroke="#000" stroke-width="0.2" font-size="11.7">Chromosome Band</text>
<text transform="translate(69.61 683.00) scale(0.9782 1)" fill="#126612" stroke="#126612" stroke-width="0.2" font-size="11.7">OMIM Cyto Loci</text>
<rect x="329.00" y="545.10" width="117.00" height="1.00" fill="#000"/>
<rect x="328.50" y="538.60" width="1.00" height="14.60" fill="#000"/>
<rect x="445.50" y="538.60" width="1.00" height="14.60" fill="#000"/>
<text transform="translate(295.66 550.00) scale(0.9450 1)" fill="#000" stroke="#000" stroke-width="0.2" font-size="11.7">10 Mb</text>
<text transform="translate(453.14 550.00) scale(0.9474 1)" fill="#000" stroke="#000" stroke-width="0.2" font-size="11.7">hg19</text>
<rect x="239.50" y="554.50" width="1.00" height="13.50" fill="#000"/>
<text transform="translate(183.76 566.00) scale(0.9250 1)" fill="#000" stroke="#000" stroke-width="0.2" font-size="11.7">10,000,000</text>
<rect x="399.30" y="554.50" width="1.00" height="13.50" fill="#000"/>
<text transform="translate(343.56 566.00) scale(0.9250 1)" fill="#000" stroke="#000" stroke-width="0.2" font-size="11.7">10,000,000</text>
<rect x="517.10" y="554.50" width="1.00" height="13.50" fill="#000"/>
<text transform="translate(461.36 566.00) scale(0.9250 1)" fill="#000" stroke="#000" stroke-width="0.2" font-size="11.7">20,000,000</text>
<text transform="translate(248.43 580.00) scale(0.9465 1)" fill="#000" stroke="#000" stroke-width="0.2" font-size="11.7">Chromosome Bands Localized by FISH Mapping Clones</text>
<text transform="translate(255.03 669.00) scale(0.9533 1)" fill="#126612" stroke="#126612" stroke-width="0.2" font-size="11.7">OMIM Cytogenetic Loci Phenotypes - Gene Unknown</text>
<rect x="154.00" y="583.50" width="19.00" height="14.10" fill="#e0e0e0"/>
<rect x="173.00" y="583.50" width="19.60" height="14.10" fill="#525252"/>
<rect x="192.60" y="583.50" width="41.40" height="14.10" fill="#e0e0e0"/>
<rect x="234.00" y="583.50" width="48.00" height="14.10" fill="#525252"/>
<rect x="283.00" y="583.50" width="28.60" height="14.10" fill="#e0e0e0"/>
<rect x="311.60" y="583.50" width="5.40" height="14.10" fill="#525252"/>
<rect x="317.00" y="583.50" width="102.00" height="14.10" fill="#e0e0e0"/>
<rect x="419.00" y="583.50" width="20.60" height="14.10" fill="#757575"/>
<rect x="439.60" y="583.50" width="20.00" height="14.10" fill="#e0e0e0"/>
<rect x="459.60" y="583.50" width="54.80" height="14.10" fill="#525252"/>
<rect x="514.40" y="583.50" width="27.60" height="14.10" fill="#e0e0e0"/>
<rect x="542.00" y="583.50" width="47.60" height="14.10" fill="#525252"/>
<rect x="589.60" y="583.50" width="31.40" height="14.10" fill="#e0e0e0"/>
<text transform="translate(213.00 595.00) scale(0.9000 1)" fill="#000000" stroke="#000000" stroke-width="0.2" font-size="11.7" text-anchor="middle">Xp22.31</text>
<text transform="translate(257.70 595.00) scale(0.9000 1)" fill="#e8e8e8" stroke="#e8e8e8" stroke-width="0.2" font-size="11.7" text-anchor="middle">Xp22.2</text>
<text transform="translate(297.00 595.00) scale(0.9000 1)" fill="#000000" stroke="#000000" stroke-width="0.2" font-size="11.7" text-anchor="middle">11.32</text>
<text transform="translate(367.70 595.00) scale(0.9000 1)" fill="#000000" stroke="#000000" stroke-width="0.2" font-size="11.7" text-anchor="middle">Yp11.2</text>
<text transform="translate(486.70 595.00) scale(0.9000 1)" fill="#e8e8e8" stroke="#e8e8e8" stroke-width="0.2" font-size="11.7" text-anchor="middle">Yq11.221</text>
<text transform="translate(565.50 595.00) scale(0.9000 1)" fill="#e8e8e8" stroke="#e8e8e8" stroke-width="0.2" font-size="11.7" text-anchor="middle">Yq11.223</text>
<text transform="translate(605.00 595.00) scale(0.9000 1)" fill="#000000" stroke="#000000" stroke-width="0.2" font-size="11.7" text-anchor="middle">11.23</text>
<text transform="translate(378.60 609.00) scale(1.0000 1)" fill="#000" stroke="#000" stroke-width="0.2" font-size="11.7">RC</text>
<rect x="154.00" y="612.70" width="128.60" height="14.10" fill="#ff00ff"/>
<path d="M156.20 616.65L159.20 619.75L156.20 622.85M163.70 616.65L166.70 619.75L163.70 622.85M171.20 616.65L174.20 619.75L171.20 622.85M178.70 616.65L181.70 619.75L178.70 622.85M186.20 616.65L189.20 619.75L186.20 622.85M193.70 616.65L196.70 619.75L193.70 622.85M201.20 616.65L204.20 619.75L201.20 622.85M208.70 616.65L211.70 619.75L208.70 622.85M216.20 616.65L219.20 619.75L216.20 622.85M223.70 616.65L226.70 619.75L223.70 622.85M231.20 616.65L234.20 619.75L231.20 622.85M238.70 616.65L241.70 619.75L238.70 622.85M246.20 616.65L249.20 619.75L246.20 622.85M253.70 616.65L256.70 619.75L253.70 622.85M261.20 616.65L264.20 619.75L261.20 622.85M268.70 616.65L271.70 619.75L268.70 622.85M276.20 616.65L279.20 619.75L276.20 622.85" fill="none" stroke="#ffa8ff" stroke-width="1.25"/>
<text transform="translate(89.86 624.00) scale(0.9620 1)" fill="#ff00ff" stroke="#ff00ff" stroke-width="0.2" font-size="11.7">RCY_X_Y-1</text>
<rect x="282.60" y="627.70" width="197.40" height="14.10" fill="#ffbb00"/>
<path d="M283.70 631.65L286.70 634.75L283.70 637.85M291.20 631.65L294.20 634.75L291.20 637.85M298.70 631.65L301.70 634.75L298.70 637.85M306.20 631.65L309.20 634.75L306.20 637.85M313.70 631.65L316.70 634.75L313.70 637.85M321.20 631.65L324.20 634.75L321.20 637.85M328.70 631.65L331.70 634.75L328.70 637.85M336.20 631.65L339.20 634.75L336.20 637.85M343.70 631.65L346.70 634.75L343.70 637.85M351.20 631.65L354.20 634.75L351.20 637.85M358.70 631.65L361.70 634.75L358.70 637.85M366.20 631.65L369.20 634.75L366.20 637.85M373.70 631.65L376.70 634.75L373.70 637.85M381.20 631.65L384.20 634.75L381.20 637.85M388.70 631.65L391.70 634.75L388.70 637.85M396.20 631.65L399.20 634.75L396.20 637.85M403.70 631.65L406.70 634.75L403.70 637.85M411.20 631.65L414.20 634.75L411.20 637.85M418.70 631.65L421.70 634.75L418.70 637.85M426.20 631.65L429.20 634.75L426.20 637.85M433.70 631.65L436.70 634.75L433.70 637.85M441.20 631.65L444.20 634.75L441.20 637.85M448.70 631.65L451.70 634.75L448.70 637.85M456.20 631.65L459.20 634.75L456.20 637.85M463.70 631.65L466.70 634.75L463.70 637.85M471.20 631.65L474.20 634.75L471.20 637.85" fill="none" stroke="#4a3a00" stroke-width="1.25"/>
<text transform="translate(89.86 639.00) scale(0.9620 1)" fill="#a08020" stroke="#a08020" stroke-width="0.2" font-size="11.7">RCY_X_Y-1</text>
<rect x="480.30" y="642.70" width="140.70" height="14.10" fill="#ff8000"/>
<path d="M486.20 646.65L489.20 649.75L486.20 652.85M493.70 646.65L496.70 649.75L493.70 652.85M501.20 646.65L504.20 649.75L501.20 652.85M508.70 646.65L511.70 649.75L508.70 652.85M516.20 646.65L519.20 649.75L516.20 652.85M523.70 646.65L526.70 649.75L523.70 652.85M531.20 646.65L534.20 649.75L531.20 652.85M538.70 646.65L541.70 649.75L538.70 652.85M546.20 646.65L549.20 649.75L546.20 652.85M553.70 646.65L556.70 649.75L553.70 652.85M561.20 646.65L564.20 649.75L561.20 652.85M568.70 646.65L571.70 649.75L568.70 652.85M576.20 646.65L579.20 649.75L576.20 652.85M583.70 646.65L586.70 649.75L583.70 652.85M591.20 646.65L594.20 649.75L591.20 652.85M598.70 646.65L601.70 649.75L598.70 652.85M606.20 646.65L609.20 649.75L606.20 652.85M613.70 646.65L616.70 649.75L613.70 652.85" fill="none" stroke="#ffc890" stroke-width="1.25"/>
<text transform="translate(89.86 654.00) scale(0.9620 1)" fill="#ff8c30" stroke="#ff8c30" stroke-width="0.2" font-size="11.7">RCY_X_Y-1</text>
<rect x="154.00" y="672.00" width="18.60" height="13.70" fill="#669466"/>
<rect x="172.60" y="672.00" width="20.40" height="13.70" fill="#005000"/>
<rect x="193.00" y="672.00" width="89.00" height="13.70" fill="#669466"/>
<rect x="282.00" y="672.00" width="136.60" height="13.70" fill="#005000"/>
<rect x="429.40" y="672.00" width="191.60" height="13.70" fill="#663399"/>
<defs><filter id="bl" x="-20%" y="-20%" width="140%" height="140%" color-interpolation-filters="sRGB"><feTurbulence type="fractalNoise" baseFrequency="0.7" numOctaves="2" seed="3" result="n"/><feColorMatrix in="n" type="matrix" values="1 0 0 0 0  1 0 0 0 0  1 0 0 0 0  0 0 0 0 1" result="g"/><feComposite in="SourceGraphic" in2="g" operator="arithmetic" k1="0" k2="1" k3="0.6" k4="-0.3" result="m"/><feComposite in="m" in2="SourceAlpha" operator="in" result="c"/><feConvolveMatrix in="c" order="3" kernelMatrix="1 2 1 2 4 2 1 2 1" divisor="16" edgeMode="none"/></filter><filter id="bl2" x="-20%" y="-20%" width="140%" height="140%" color-interpolation-filters="sRGB"><feTurbulence type="fractalNoise" baseFrequency="0.7" numOctaves="2" seed="7" result="n"/><feColorMatrix in="n" type="matrix" values="1 0 0 0 0  1 0 0 0 0  1 0 0 0 0  0 0 0 0 1" result="g"/><feComposite in="SourceGraphic" in2="g" operator="arithmetic" k1="0" k2="1" k3="0.6" k4="-0.3" result="m"/><feComposite in="m" in2="SourceAlpha" operator="in" result="c"/><feConvolveMatrix in="c" order="3" kernelMatrix="1 2 1 2 4 2 1 2 1" divisor="16" edgeMode="none"/></filter><filter id="bl3" x="-20%" y="-20%" width="140%" height="140%" color-interpolation-filters="sRGB"><feTurbulence type="fractalNoise" baseFrequency="0.6" numOctaves="2" seed="11" result="n"/><feColorMatrix in="n" type="matrix" values="1 0 0 0 0  1 0 0 0 0  1 0 0 0 0  0 0 0 0 1" result="g"/><feComposite in="SourceGraphic" in2="g" operator="arithmetic" k1="0" k2="1" k3="0.35" k4="-0.175" result="m"/><feComposite in="m" in2="SourceAlpha" operator="in" result="c"/><feGaussianBlur in="c" stdDeviation="0.8"/></filter><filter id="bl4" x="-20%" y="-20%" width="140%" height="140%" color-interpolation-filters="sRGB"><feTurbulence type="fractalNoise" baseFrequency="0.85" numOctaves="2" seed="5" result="n"/><feColorMatrix in="n" type="matrix" values="1 0 0 0 0  1 0 0 0 0  1 0 0 0 0  0 0 0 0 1" result="g"/><feComposite in="SourceGraphic" in2="g" operator="arithmetic" k1="0" k2="1" k3="0.9" k4="-0.45" result="m"/><feComposite in="m" in2="SourceAlpha" operator="in" result="c"/><feConvolveMatrix in="c" order="3" kernelMatrix="1 2 1 2 4 2 1 2 1" divisor="16" edgeMode="none"/></filter></defs>
<g filter="url(#bl)"><ellipse cx="671.6" cy="57.5" rx="2.9" ry="2.2" fill="#8a8a8a" transform="rotate(20 671.6 57.5)"/><ellipse cx="673.0" cy="58.0" rx="1.4" ry="1.4" fill="#666"/><path d="M664 63 L676 62.5 L676.5 72 L676 80 L676.3 90 L675.5 99 L676.2 106 L674.5 110.5 L665.5 110.8 L662.5 106 L661.2 98 L663 90 L662.2 80 L663.2 72 Z" fill="#b8b8b8"/><path d="M665.5 64 L674.5 64 L675 72 L674.5 80 L674.8 90 L674 99 L674.5 106 L673 109 L667 109.3 L664.3 106 L663.5 98 L664.5 90 L663.8 80 L664.8 72 Z" fill="#e6e6e6"/><ellipse cx="667.5" cy="66.7" rx="2.9" ry="3.2" fill="#1c1c1c"/><ellipse cx="673.5" cy="65.4" rx="2.1" ry="3.3" fill="#222"/><ellipse cx="670.5" cy="62.8" rx="1.2" ry="1.0" fill="#fff"/><ellipse cx="670.5" cy="71.2" rx="3.2" ry="1.7" fill="#fafafa"/><rect x="662.5" y="73.8" width="13.5" height="6.200000000000003" rx="1.5" fill="#9a9a9a"/><ellipse cx="673.4" cy="76.8" rx="2.4" ry="2.8" fill="#444"/><ellipse cx="667.0" cy="77.0" rx="2.0" ry="1.6" fill="#b8b8b8"/><ellipse cx="664.2" cy="83.0" rx="1.3" ry="2.5" fill="#8a8a8a"/><ellipse cx="675.0" cy="82.5" rx="1.2" ry="2.5" fill="#8a8a8a"/><ellipse cx="670.2" cy="83.3" rx="2.6" ry="2.2" fill="#fbfbfb"/><path d="M664.5 86 L675.5 85.2 L675.8 89.5 L665 90.8 Z" fill="#2e2e2e"/><ellipse cx="663.5" cy="92.5" rx="1.2" ry="2.0" fill="#8a8a8a"/><ellipse cx="670.0" cy="92.7" rx="3.6" ry="1.8" fill="#fcfcfc"/><path d="M661.3 95 L673.5 94.3 L674.2 98.8 L662 99.3 Z" fill="#151515"/><rect x="662.3" y="100.8" width="13.700000000000045" height="5.400000000000006" rx="2" fill="#707070"/><ellipse cx="669.3" cy="103.4" rx="3.4" ry="1.8" fill="#d8d8d8"/><ellipse cx="670.0" cy="107.8" rx="3.4" ry="1.9" fill="#fafafa"/><path d="M666.5 108.5 Q669.5 111.5 672.5 109 L672.8 110.3 Q669.5 112.5 666 110 Z" fill="#555"/></g>
<g filter="url(#bl)"><path d="M697 74 L706 72.8 L713 76.5 L717 84 L716.3 92 L711 97.5 L703 98.8 L696 96.5 L692 90 L691.5 82 Z" fill="#8e8e8e"/><ellipse cx="705.5" cy="85.0" rx="7.5" ry="6.5" fill="#ababab"/><ellipse cx="707.5" cy="81.5" rx="3.5" ry="2.5" fill="#cdcdcd"/><ellipse cx="700.0" cy="89.5" rx="3.0" ry="2.4" fill="#c6c6c6"/><ellipse cx="704.5" cy="87.0" rx="2.0" ry="1.6" fill="#e0e0e0"/><ellipse cx="701.0" cy="77.0" rx="4.0" ry="2.6" fill="#262626" transform="rotate(-15 701.0 77.0)"/><ellipse cx="695.2" cy="88.8" rx="2.6" ry="3.8" fill="#2a2a2a"/><ellipse cx="704.0" cy="96.0" rx="5.8" ry="2.5" fill="#202020" transform="rotate(5 704.0 96.0)"/><ellipse cx="712.6" cy="85.8" rx="1.9" ry="2.8" fill="#3c3c3c"/><ellipse cx="709.0" cy="91.5" rx="2.2" ry="1.6" fill="#6a6a6a"/></g>
<g filter="url(#bl)"><path d="M660 191 L667 189.8 L673 192.5 L672.5 203 L670.5 206 L670.8 214 L671.5 222 L670.5 230 L668 237.5 L662 237.5 L658 232 L656.5 222 L656.3 210 L659.5 203 Z" fill="#b4b4b4"/><ellipse cx="663.5" cy="196.5" rx="3.2" ry="2.8" fill="#4a4a4a"/><ellipse cx="670.0" cy="194.0" rx="2.4" ry="2.2" fill="#505050"/><ellipse cx="667.5" cy="199.5" rx="2.2" ry="1.8" fill="#e0e0e0"/><ellipse cx="665.5" cy="205.0" rx="3.0" ry="2.0" fill="#d0d0d0"/><ellipse cx="659.5" cy="211.2" rx="3.0" ry="3.0" fill="#3a3a3a"/><ellipse cx="666.3" cy="211.5" rx="3.2" ry="3.0" fill="#333"/><ellipse cx="662.0" cy="214.5" rx="1.6" ry="1.2" fill="#e8e8e8"/><ellipse cx="664.0" cy="220.5" rx="5.5" ry="3.5" fill="#d2d2d2"/><ellipse cx="660.0" cy="224.5" rx="2.2" ry="2.2" fill="#5a5a5a"/><ellipse cx="667.5" cy="225.0" rx="2.8" ry="2.2" fill="#e2e2e2"/><ellipse cx="665.0" cy="230.5" rx="4.2" ry="2.2" fill="#383838"/><ellipse cx="664.5" cy="235.0" rx="3.6" ry="1.8" fill="#c8c8c8"/></g>
<path d="M652 211 L657 204" stroke="#bbb" stroke-width="0.8" fill="none" filter="url(#bl)"/>
<g filter="url(#bl)"><path d="M686 203 L691 201.2 L697 204 L701.5 208.5 L701.8 216 L700.5 223 L694 226.6 L686.5 225.5 L682 220 L681.7 212 Z" fill="#949494"/><ellipse cx="691.5" cy="214.0" rx="5.0" ry="5.0" fill="#c4c4c4"/><ellipse cx="690.0" cy="215.5" rx="1.8" ry="3.5" fill="#f2f2f2" transform="rotate(25 690.0 215.5)"/><ellipse cx="689.5" cy="206.3" rx="3.5" ry="2.8" fill="#3a3a3a"/><ellipse cx="698.3" cy="210.5" rx="2.2" ry="2.2" fill="#333"/><ellipse cx="683.8" cy="216.5" rx="2.2" ry="3.6" fill="#444"/><ellipse cx="691.8" cy="222.0" rx="4.2" ry="2.8" fill="#333"/><ellipse cx="697.5" cy="219.0" rx="2.0" ry="2.5" fill="#555"/></g>
<g filter="url(#bl2)"><path d="M663.5 375.5 L667 374.3 L671 377 L674 375.5 L678.5 376.5 L681 381 L680.5 386 L681.3 392 L681 399 L678.5 401.5 L671.5 401.5 L669.3 398 L669.6 390 L670.5 386.5 L667.5 384.5 L664.5 382 Z" fill="#a4a4a4"/><ellipse cx="666.8" cy="378.8" rx="2.2" ry="3.0" fill="#c8c8c8" transform="rotate(-35 666.8 378.8)"/><ellipse cx="675.8" cy="380.5" rx="4.2" ry="4.8" fill="#5a5a5a"/><ellipse cx="676.4" cy="383.3" rx="3.4" ry="3.2" fill="#080808"/><ellipse cx="675.3" cy="388.0" rx="4.5" ry="1.5" fill="#c4c4c4"/><rect x="670" y="389.2" width="10.799999999999955" height="4.600000000000023" rx="2" fill="#4a4a4a"/><ellipse cx="675.5" cy="397.5" rx="4.6" ry="2.8" fill="#e2e2e2"/><ellipse cx="671.0" cy="396.5" rx="1.4" ry="2.2" fill="#777"/><ellipse cx="679.5" cy="397.0" rx="1.2" ry="2.5" fill="#8a8a8a"/></g>
<g filter="url(#bl2)"><ellipse cx="703.6" cy="391.8" rx="11.1" ry="10.7" fill="#6e6e6e" transform="rotate(-10 703.6 391.8)"/><ellipse cx="703.2" cy="393.0" rx="9.4" ry="8.9" fill="#c6c6c6" transform="rotate(-10 703.2 393.0)"/><ellipse cx="702.0" cy="394.5" rx="6.0" ry="5.5" fill="#d8d8d8"/><ellipse cx="703.5" cy="384.4" rx="7.8" ry="2.5" fill="#0e0e0e" transform="rotate(-3 703.5 384.4)"/><ellipse cx="712.0" cy="392.0" rx="1.6" ry="5.0" fill="#6a6a6a" transform="rotate(-10 712.0 392.0)"/></g>
<path d="M688.5 382.8 L692.5 381.2" stroke="#d0d0d0" stroke-width="0.9" fill="none"/>
<g filter="url(#bl4)"><path d="M678 574 L685 573.2 L687.5 579 L688.3 590 L687.2 600 L688 610 L687 620 L688.6 632 L688.2 642 L689.2 652 L688.6 662 L688 671 L682 674.5 L677.5 672 L676.5 664 L677 655 L676 645 L676.6 636 L675.6 626 L676.4 615 L675.6 605 L676.3 595 L675.7 585 Z" fill="#8a8a8a"/><ellipse cx="681.5" cy="578.0" rx="4.0" ry="4.0" fill="#b4b4b4"/><ellipse cx="683.5" cy="584.5" rx="3.0" ry="2.5" fill="#8a8a8a"/><ellipse cx="678.0" cy="591.8" rx="2.0" ry="2.6" fill="#0c0c0c"/><ellipse cx="684.1" cy="591.8" rx="2.0" ry="2.6" fill="#0c0c0c"/><ellipse cx="681.0" cy="601.0" rx="4.6" ry="4.0" fill="#c8c8c8"/><ellipse cx="681.5" cy="608.5" rx="5.0" ry="2.0" fill="#909090"/><ellipse cx="681.5" cy="615.5" rx="4.5" ry="3.2" fill="#5e5e5e"/><ellipse cx="680.5" cy="623.5" rx="4.6" ry="3.0" fill="#2a2a2a" transform="rotate(15 680.5 623.5)"/><ellipse cx="682.0" cy="629.5" rx="4.5" ry="2.0" fill="#8e8e8e"/><ellipse cx="680.5" cy="634.5" rx="3.2" ry="2.2" fill="#4a4a4a"/><ellipse cx="682.0" cy="639.5" rx="4.5" ry="2.0" fill="#909090"/><ellipse cx="682.0" cy="644.5" rx="3.2" ry="2.4" fill="#383838"/><ellipse cx="683.5" cy="651.0" rx="4.4" ry="2.8" fill="#2c2c2c"/><ellipse cx="682.5" cy="656.5" rx="4.5" ry="1.6" fill="#8e8e8e"/><ellipse cx="684.0" cy="661.0" rx="3.8" ry="2.6" fill="#242424"/><ellipse cx="682.5" cy="667.5" rx="5.0" ry="3.5" fill="#585858"/></g>
<g filter="url(#bl2)"><path d="M722.5 657 L727.5 661 L731.3 665.5 L728 670 L722.5 671.6 L717.5 670 L716.2 665.5 L718.5 660.5 Z" fill="#5a5a5a"/><ellipse cx="722.8" cy="660.8" rx="2.8" ry="2.3" fill="#0e0e0e"/><ellipse cx="722.8" cy="668.6" rx="3.5" ry="2.3" fill="#0a0a0a"/><ellipse cx="719.0" cy="665.5" rx="2.0" ry="2.2" fill="#2a2a2a"/></g>
</g>
</svg>
</body></html>
